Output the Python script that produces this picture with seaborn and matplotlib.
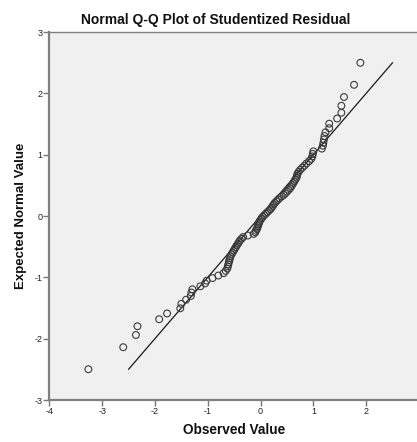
import matplotlib
matplotlib.use("Agg")
import matplotlib.pyplot as plt
import seaborn as sns
import pandas as pd

# Observed studentized residuals (x) and expected normal values (y)
observed = [
    -3.26, -2.60, -2.36, -2.33, -1.92, -1.77, -1.52, -1.50, -1.41, -1.32,
    -1.31, -1.29, -1.14, -1.05, -1.02, -0.91, -0.80, -0.70, -0.66, -0.63,
    -0.62, -0.61, -0.60, -0.59, -0.58, -0.57, -0.55, -0.53, -0.51, -0.49,
    -0.47, -0.45, -0.43, -0.41, -0.39, -0.36, -0.33, -0.24, -0.13, -0.10,
    -0.09, -0.07, -0.06, -0.05, -0.04, -0.03, -0.02, 0.00, 0.02, 0.04,
    0.07, 0.10, 0.13, 0.16, 0.19, 0.21, 0.23, 0.25, 0.27, 0.30,
    0.33, 0.36, 0.40, 0.44, 0.47, 0.50, 0.53, 0.56, 0.58, 0.60,
    0.62, 0.64, 0.66, 0.68, 0.69, 0.70, 0.72, 0.75, 0.79, 0.83,
    0.87, 0.92, 0.96, 0.98, 0.99, 1.00, 1.16, 1.18, 1.19, 1.20,
    1.21, 1.23, 1.30, 1.30, 1.45, 1.53, 1.53, 1.58, 1.77, 1.89,
]
expected = [
    -2.498, -2.139, -1.940, -1.797, -1.683, -1.589, -1.505, -1.432, -1.365, -1.304,
    -1.248, -1.195, -1.146, -1.099, -1.054, -1.012, -0.971, -0.931, -0.894, -0.857,
    -0.821, -0.787, -0.753, -0.720, -0.688, -0.657, -0.626, -0.596, -0.566, -0.537,
    -0.509, -0.480, -0.453, -0.425, -0.398, -0.371, -0.344, -0.318, -0.292, -0.266,
    -0.240, -0.214, -0.189, -0.164, -0.138, -0.113, -0.088, -0.063, -0.038, -0.013,
    0.013, 0.038, 0.063, 0.088, 0.113, 0.138, 0.164, 0.189, 0.214, 0.240,
    0.266, 0.292, 0.318, 0.344, 0.371, 0.398, 0.425, 0.453, 0.480, 0.509,
    0.537, 0.566, 0.596, 0.626, 0.657, 0.688, 0.720, 0.753, 0.787, 0.821,
    0.857, 0.894, 0.931, 0.971, 1.012, 1.054, 1.099, 1.146, 1.195, 1.248,
    1.304, 1.365, 1.432, 1.505, 1.589, 1.683, 1.797, 1.940, 2.139, 2.498,
]
ref_line_x = [-2.5, 2.5]
ref_line_y = [-2.5, 2.5]

x_ticks = [-4, -3, -2, -1, 0, 1, 2, 3]
y_ticks = [-3, -2, -1, 0, 1, 2, 3]

title = "Normal Q-Q Plot of Studentized Residual"
xlabel = "Observed Value"
ylabel = "Expected Normal Value"

sns.set_theme(style="white")
plt.rcParams['font.family'] = ['Liberation Sans', 'DejaVu Sans']

df = pd.DataFrame({"observed": observed, "expected": expected})
line_df = pd.DataFrame({"x": ref_line_x, "y": ref_line_y})

fig = plt.figure(figsize=(4.17, 4.42), dpi=100)
ax = fig.add_axes([0.1182, 0.095, 0.8866, 0.8326])
ax.set_facecolor("#f0f0f0")

sns.lineplot(data=line_df, x="x", y="y", ax=ax, color="#1a1a1a",
             linewidth=0.9, zorder=2)
sns.scatterplot(data=df, x="observed", y="expected", ax=ax,
                marker="o", s=24, facecolors="none", edgecolor="#3a3a3a",
                linewidth=0.8, zorder=3)

ax.set_xlim(-4, 3)
ax.set_ylim(-3, 3)
ax.set_xticks(x_ticks)
ax.set_yticks(y_ticks)
ax.set_xticklabels([str(t) for t in x_ticks])
ax.set_yticklabels([str(t) for t in y_ticks])
ax.tick_params(axis="both", which="major", direction="out", length=4,
               width=1, color="#777777", labelsize=6.5, pad=1,
               labelcolor="#222222", bottom=True, left=True)

for side in ["left", "bottom", "top", "right"]:
    ax.spines[side].set_color("#808080")
    ax.spines[side].set_linewidth(1.6 if side in ("left", "bottom") else 1.0)

fig.text(216 / 417, 1 - 20 / 442, title, fontsize=10, fontweight="bold",
         color="#111111", ha="center", va="center")
ax.set_xlabel(xlabel, fontsize=9.8, fontweight="bold", labelpad=5, color="#111111")
ax.set_ylabel(ylabel, fontsize=9.5, fontweight="bold", labelpad=5, color="#111111")

fig.savefig("out.png", dpi=100)
